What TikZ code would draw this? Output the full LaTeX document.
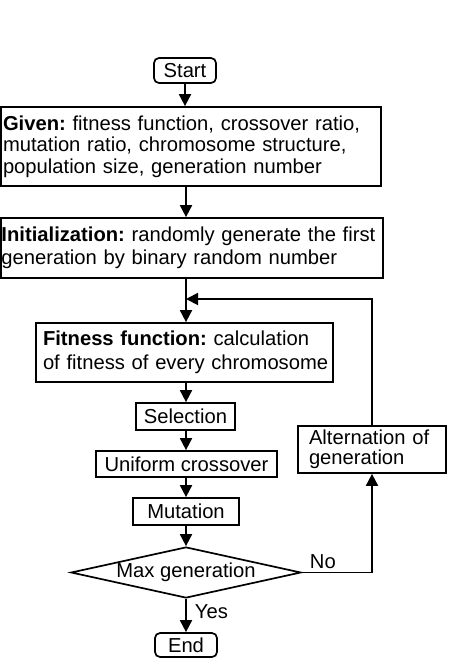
\documentclass[tikz,border=0pt]{standalone}
\usepackage{fontspec}
\setmainfont{Liberation Sans}
\usetikzlibrary{shapes.geometric,arrows.meta}
\frenchspacing
\begin{document}
\begin{tikzpicture}[x=1pt,y=-1pt,
  every node/.style={font=\fontsize{20.2}{22}\selectfont},
  box/.style={draw, rectangle, inner ysep=0pt, line width=1.7pt},
  txtbox/.style={box, align=left},
  term/.style={box, rounded corners=5pt, inner xsep=0pt},
  arr/.style={-{Triangle[length=12pt,width=12pt]}, line width=1.8pt},
  lbl/.style={inner sep=0pt}]
\useasboundingbox (0,0) rectangle (458,670);

\node[term, minimum width=62, minimum height=25] (start) at (185,70.5) {Start};
\node[txtbox, minimum width=380, minimum height=79, text width=376, inner xsep=2,
  font=\fontsize{20.2}{21.7}\selectfont] (given) at (191,146.5)
  {\mbox{\textbf{Given:} fitness function, crossover ratio,}\\\mbox{mutation ratio, chromosome structure,}\\\mbox{population size, generation number}};
\node[txtbox, minimum width=382, minimum height=60, text width=381, inner xsep=0.5,
  font=\fontsize{20.2}{23.3}\selectfont] (init) at (192,248)
  {\mbox{\textbf{Initialization:} randomly generate the first}\\\mbox{generation by binary random number}};
\node[txtbox, minimum width=297, minimum height=59, text width=283, inner xsep=7,
  font=\fontsize{20.2}{23.5}\selectfont] (fit) at (184.5,352.5)
  {\mbox{\textbf{Fitness function:} calculation}\\\mbox{of fitness of every chromosome}};
\node[box, minimum width=99, minimum height=27, inner xsep=0] (sel) at (185.5,416.5) {Selection};
\node[box, minimum width=181, minimum height=26, inner xsep=0] (uni) at (186.5,464) {Uniform crossover};
\node[box, minimum width=106, minimum height=27, inner xsep=0] (mut) at (186,511.5) {Mutation};
\node[draw, diamond, shape aspect=4.5, minimum width=230, minimum height=51, inner sep=0pt, line width=1.7pt] (max) at (186,572.5) {Max generation};
\node[term, minimum width=62, minimum height=24] (end) at (186,645) {End};
\node[txtbox, minimum width=148, minimum height=47, text width=126, inner xsep=11,
  font=\fontsize{20.2}{20}\selectfont] (alt) at (372,449.5)
  {\mbox{Alternation of}\\\mbox{generation}};

\coordinate (sp) at (186,0);
\coordinate (join) at (186,299);
\draw[arr] (start.south) -- (start.south |- given.north);
\draw[arr] (given.south -| sp) -- (init.north -| sp);
\draw[arr] (init.south -| sp) -- (fit.north -| sp);
\draw[arr] (fit.south -| sp) -- (sel.north -| sp);
\draw[arr] (sel.south -| sp) -- (uni.north -| sp);
\draw[arr] (uni.south -| sp) -- (mut.north -| sp);
\draw[arr] (mut.south -| sp) -- (max.north);
\draw[arr] (max.south) -- node[lbl, pos=0.38, right=8pt] {Yes} (end.north);
\draw[arr] (max.east) -| node[lbl, pos=0.15, above=3pt] {No} (alt.south);
\draw[arr] (alt.north) |- (join);
\end{tikzpicture}
\end{document}
